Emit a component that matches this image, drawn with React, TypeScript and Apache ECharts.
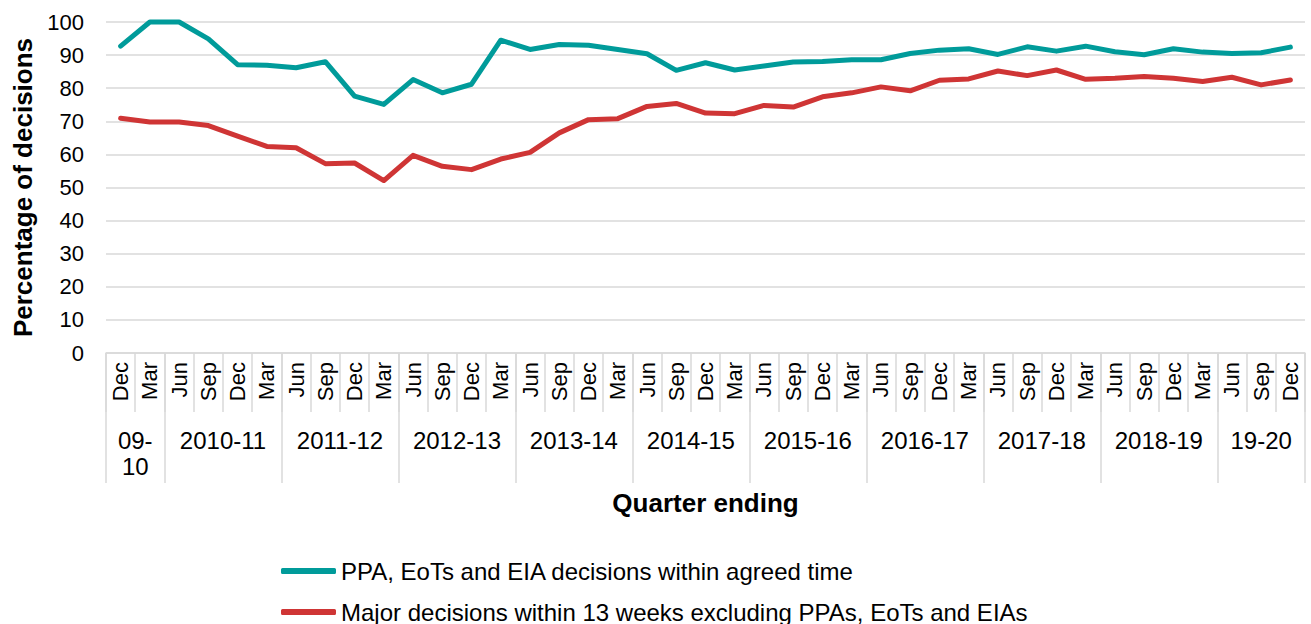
import React, { useEffect, useRef } from 'react';
import * as echarts from 'echarts';

const quarters = [
  'Dec', 'Mar',
  'Jun', 'Sep', 'Dec', 'Mar',
  'Jun', 'Sep', 'Dec', 'Mar',
  'Jun', 'Sep', 'Dec', 'Mar',
  'Jun', 'Sep', 'Dec', 'Mar',
  'Jun', 'Sep', 'Dec', 'Mar',
  'Jun', 'Sep', 'Dec', 'Mar',
  'Jun', 'Sep', 'Dec', 'Mar',
  'Jun', 'Sep', 'Dec', 'Mar',
  'Jun', 'Sep', 'Dec', 'Mar',
  'Jun', 'Sep', 'Dec',
];

const yearLabels = ['09-\n10', '2010-11', '2011-12', '2012-13', '2013-14', '2014-15', '2015-16', '2016-17', '2017-18', '2018-19', '19-20'];
const yearSizes = [2, 4, 4, 4, 4, 4, 4, 4, 4, 4, 3];

const seriesNames = [
  'PPA, EoTs and EIA decisions within agreed time',
  'Major decisions within 13 weeks excluding PPAs, EoTs and EIAs',
];

const withinAgreedTime = [
  92.7, 100, 100, 94.9, 87.1, 86.9, 86.2, 88.0, 77.6, 75.1, 82.6, 78.6, 81.2, 94.5,
  91.7, 93.2, 93.0, 91.7, 90.4, 85.4, 87.7, 85.5, 86.7, 87.9, 88.1, 88.6, 88.6, 90.5,
  91.5, 91.9, 90.2, 92.5, 91.2, 92.7, 91.0, 90.1, 91.9, 90.9, 90.5, 90.7, 92.4,
];

const majorWithin13Weeks = [
  70.9, 69.8, 69.8, 68.7, 65.5, 62.4, 62.0, 57.2, 57.4, 52.1, 59.7, 56.4, 55.4, 58.6,
  60.6, 66.5, 70.5, 70.8, 74.5, 75.4, 72.5, 72.3, 74.8, 74.3, 77.4, 78.6, 80.4, 79.2,
  82.4, 82.8, 85.2, 83.8, 85.5, 82.7, 83.0, 83.5, 83.0, 82.0, 83.3, 81.0, 82.5,
];

const yMin = 0;
const yMax = 100;
const yInterval = 10;

const FONT = '"Liberation Sans", Arial, sans-serif';
const GRID_LINE = '#d9d9d9';
const TEAL = '#009b9a';
const RED = '#cf3535';

export default function App() {
  const ref = useRef<HTMLDivElement>(null);

  useEffect(() => {
    document.body.style.margin = '0';
    const chart = echarts.init(ref.current!, null, { renderer: 'svg' });

    const boundaries: number[] = [0];
    yearSizes.forEach((s) => boundaries.push(boundaries[boundaries.length - 1] + s));

    const gridRect = { left: 106, right: 6, top: 22, bottom: 271 };

    const legendBase = {
      orient: 'vertical',
      left: 276,
      itemWidth: 55,
      itemHeight: 6,
      itemGap: 4,
      icon: 'roundRect',
      textStyle: { fontFamily: FONT, fontSize: 24, color: '#000' },
    };

    chart.setOption({
      animation: false,
      textStyle: { fontFamily: FONT },
      grid: [
        { ...gridRect },
        { ...gridRect },
      ],
      legend: [
        { ...legendBase, top: 554, data: [seriesNames[0]] },
        { ...legendBase, top: 595, data: [seriesNames[1]] },
      ],
      xAxis: [
        {
          type: 'category',
          gridIndex: 0,
          data: quarters,
          boundaryGap: true,
          axisLine: { show: true, lineStyle: { color: GRID_LINE, width: 1.5 } },
          axisTick: { show: true, length: 59, interval: 0, lineStyle: { color: GRID_LINE, width: 1.5 } },
          axisLabel: {
            interval: 0,
            rotate: 90,
            margin: 9,
            fontFamily: FONT,
            fontSize: 22,
            color: '#000',
          },
          splitLine: { show: false },
        },
        {
          type: 'category',
          gridIndex: 1,
          data: quarters,
          boundaryGap: true,
          axisLine: { show: false },
          axisTick: {
            show: true,
            length: 130,
            interval: (i: number) => boundaries.includes(i),
            lineStyle: { color: GRID_LINE, width: 1.5 },
          },
          axisLabel: { show: false },
          splitLine: { show: false },
          name: 'Quarter ending',
          nameLocation: 'middle',
          nameGap: 137,
          nameTextStyle: { fontFamily: FONT, fontSize: 26, fontWeight: 'bold', color: '#000' },
        },
      ],
      yAxis: [
        {
          type: 'value',
          gridIndex: 0,
          min: yMin,
          max: yMax,
          interval: yInterval,
          axisLine: { show: false },
          axisTick: { show: false },
          axisLabel: { fontFamily: FONT, fontSize: 22, color: '#000', margin: 22 },
          splitLine: { show: true, lineStyle: { color: GRID_LINE, width: 1.5 } },
          name: 'Percentage of decisions',
          nameLocation: 'middle',
          nameGap: 68,
          nameTextStyle: { fontFamily: FONT, fontSize: 26, fontWeight: 'bold', color: '#000' },
        },
        {
          type: 'value',
          gridIndex: 1,
          min: yMin,
          max: yMax,
          show: false,
          splitLine: { show: false },
        },
      ],
      series: [
        {
          name: seriesNames[0],
          type: 'line',
          xAxisIndex: 0,
          yAxisIndex: 0,
          data: withinAgreedTime,
          symbol: 'none',
          color: TEAL,
          lineStyle: { width: 5, color: TEAL, cap: 'round', join: 'round' },
          clip: false,
        },
        {
          name: seriesNames[1],
          type: 'line',
          xAxisIndex: 0,
          yAxisIndex: 0,
          data: majorWithin13Weeks,
          symbol: 'none',
          color: RED,
          lineStyle: { width: 5, color: RED, cap: 'round', join: 'round' },
          clip: false,
        },
      ],
    });

    const baseY = chart.convertToPixel({ yAxisIndex: 0 }, yMin) as number;
    const texts = yearLabels.map((lab, g) => {
      const s = boundaries[g];
      const e = boundaries[g + 1] - 1;
      const x0 = chart.convertToPixel({ xAxisIndex: 0 }, s) as number;
      const x1 = chart.convertToPixel({ xAxisIndex: 0 }, e) as number;
      return {
        type: 'text',
        x: (x0 + x1) / 2,
        y: baseY + 74,
        style: {
          text: lab,
          fill: '#000',
          fontFamily: FONT,
          fontSize: 24,
          lineHeight: 26,
          align: 'center',
          verticalAlign: 'top',
        },
      };
    });
    chart.setOption({ graphic: texts });

    return () => chart.dispose();
  }, []);

  return <div ref={ref} style={{ width: 1311, height: 624 }} />;
}
